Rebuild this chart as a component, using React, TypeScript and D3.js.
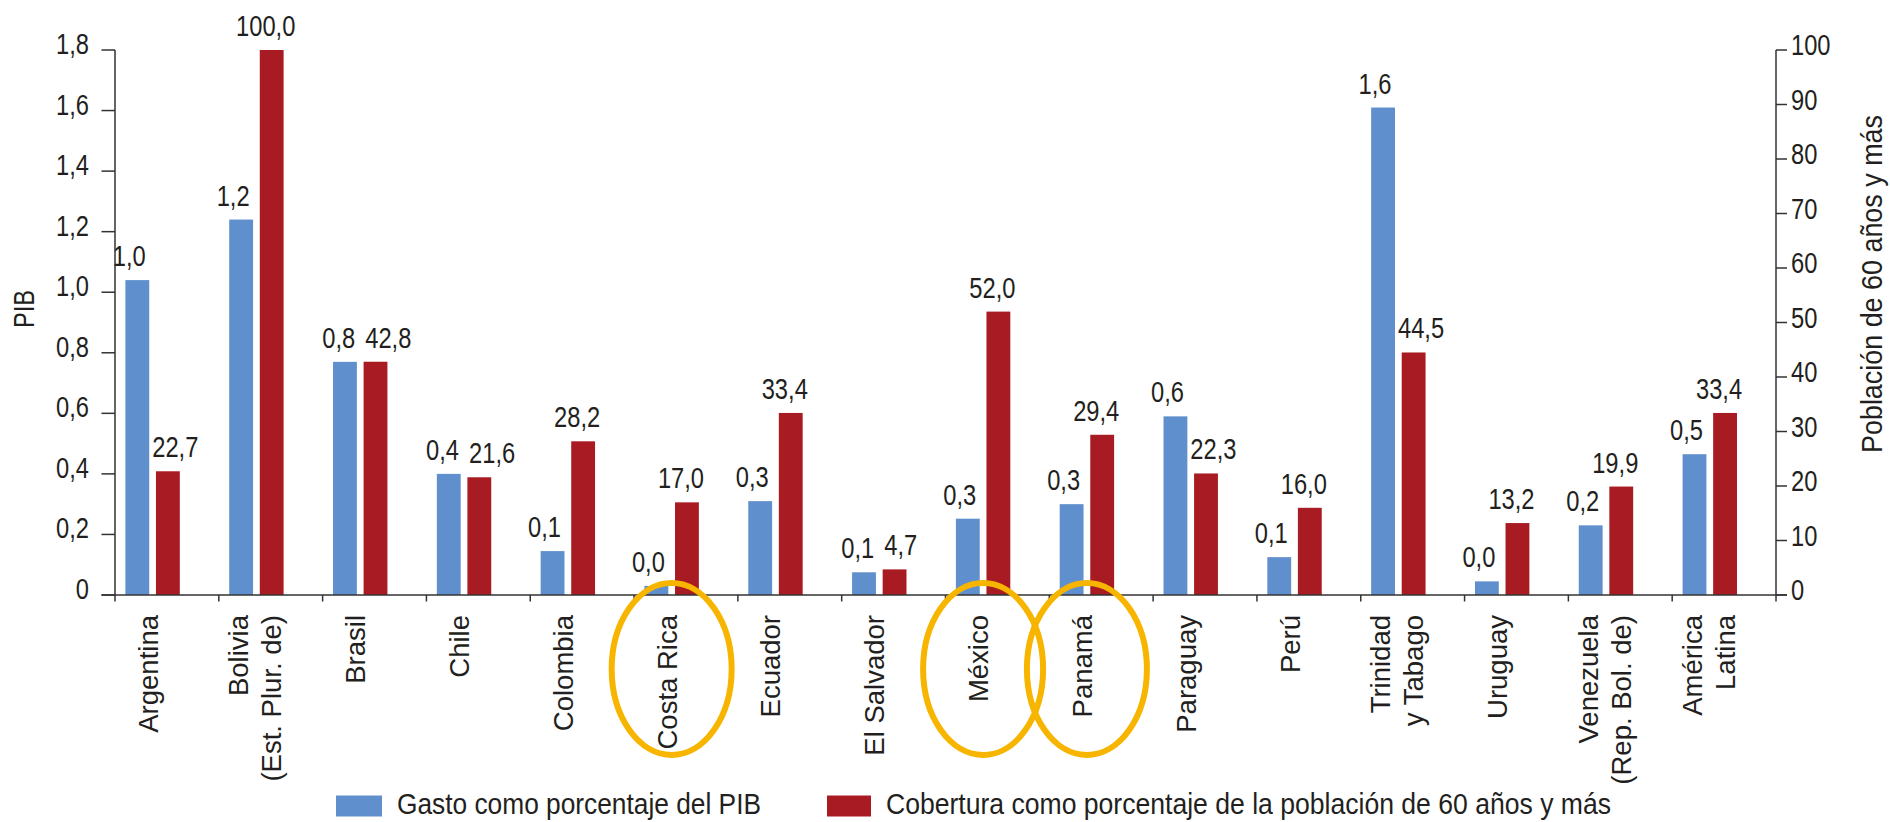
import React from "react";
import * as d3 from "d3";

// ---------- data ----------
const categories = [
  "Argentina",
  "Bolivia (Est. Plur. de)",
  "Brasil",
  "Chile",
  "Colombia",
  "Costa Rica",
  "Ecuador",
  "El Salvador",
  "México",
  "Panamá",
  "Paraguay",
  "Perú",
  "Trinidad y Tabago",
  "Uruguay",
  "Venezuela (Rep. Bol. de)",
  "América Latina",
];
const categoryLines = [
  ["Argentina"],
  ["Bolivia", "(Est. Plur. de)"],
  ["Brasil"],
  ["Chile"],
  ["Colombia"],
  ["Costa Rica"],
  ["Ecuador"],
  ["El Salvador"],
  ["México"],
  ["Panamá"],
  ["Paraguay"],
  ["Perú"],
  ["Trinidad", "y Tabago"],
  ["Uruguay"],
  ["Venezuela", "(Rep. Bol. de)"],
  ["América", "Latina"],
];
// Gasto como porcentaje del PIB (left axis)
const gastoPIB = [1.04, 1.24, 0.77, 0.4, 0.145, 0.03, 0.31, 0.075, 0.252, 0.3, 0.59, 0.125, 1.61, 0.045, 0.23, 0.465];
// Cobertura como porcentaje de la población de 60 años y más (right axis)
const cobertura = [22.7, 100.0, 42.8, 21.6, 28.2, 17.0, 33.4, 4.7, 52.0, 29.4, 22.3, 16.0, 44.5, 13.2, 19.9, 33.4];
const leftTicks = [0, 0.2, 0.4, 0.6, 0.8, 1.0, 1.2, 1.4, 1.6, 1.8];
const rightTicks = [0, 10, 20, 30, 40, 50, 60, 70, 80, 90, 100];
const highlighted = ["Costa Rica", "México", "Panamá"];
const seriesNames = [
  "Gasto como porcentaje del PIB",
  "Cobertura como porcentaje de la población de 60 años y más",
];
const leftTitle = "PIB";
const rightTitle = "Población de 60 años y más";

// ---------- layout / style ----------
const W = 1890;
const H = 822;
const SANS = "'Liberation Sans',Arial,Helvetica,sans-serif";
const NARROW_SCALE = 0.79;
const BLUE = "#5f8fcc";
const RED = "#a91b22";
const TXT = "#231f20";
const AXIS = "#333333";
const GOLD = "#f7b500";

const plotL = 115;
const plotR = 1776;
const plotB = 595;
const plotT = 50;
const groupOffset = 37.6;
const valueFont = 30;

const locale = d3.formatLocale({ decimal: ",", thousands: ".", grouping: [3], currency: ["", ""] });
const fmt1 = locale.format(".1f");
const tickFmt = (v: number) => (v === 0 ? "0" : fmt1(v));

let ctx: CanvasRenderingContext2D | null = null;
function textW(s: string, size: number) {
  if (!ctx) ctx = document.createElement("canvas").getContext("2d");
  if (!ctx) return s.length * size * 0.5 * NARROW_SCALE;
  ctx.font = `${size}px ${SANS}`;
  return ctx.measureText(s).width * NARROW_SCALE;
}

// condensed text: regular sans squeezed horizontally
function NText(props: {
  x: number;
  y: number;
  rotate?: number;
  anchor?: "start" | "middle" | "end";
  size: number;
  children: React.ReactNode;
  length?: number;
}) {
  const { x, y, rotate = 0, anchor = "start", size, children, length } = props;
  return (
    <g transform={`translate(${x},${y}) rotate(${rotate}) scale(${NARROW_SCALE},1)`}>
      <text
        x={0}
        y={0}
        textAnchor={anchor}
        fontFamily={SANS}
        fontSize={size}
        fill={TXT}
        {...(length ? { textLength: length / NARROW_SCALE, lengthAdjust: "spacingAndGlyphs" } : {})}
      >
        {children}
      </text>
    </g>
  );
}

export default function App() {
  const x = d3.scaleBand<string>().domain(categories).range([plotL, plotR]).paddingInner(0).paddingOuter(0);
  const inner = d3.scaleBand<string>().domain(["g", "c"]).range([-27.2, 27.2]).paddingInner(0.22);
  const yL = d3.scaleLinear().domain([0, 1.8]).range([plotB, plotT]);
  const yR = d3.scaleLinear().domain([0, 100]).range([plotB, plotT]);
  const bw = inner.bandwidth();

  const items = categories.map((c, i) => {
    const gc = (x(c) as number) + groupOffset;
    const bx = gc + (inner("g") as number);
    const rx = gc + (inner("c") as number);
    const bTop = yL(gastoPIB[i]);
    const rTop = yR(cobertura[i]);
    const bLab = fmt1(gastoPIB[i]);
    const rLab = fmt1(cobertura[i]);
    const bW = textW(bLab, valueFont);
    const rW = textW(rLab, valueFont);
    const bBase = bTop - 14;
    const rBase = rTop - 14;
    let bCx = bx + bw / 2 - 8;
    let rCx = rx + bw / 2 - 6;
    // keep red label clear of a taller blue bar
    if (bTop < rBase) rCx = Math.max(rCx, bx + bw + 3 + rW / 2);
    // keep blue label clear of a taller red bar
    if (rTop < bBase) bCx = Math.min(bCx, rx - 3 - bW / 2);
    // labels colliding: set them side by side around the group centre
    const capH = valueFont * 0.72;
    const vOverlap = !(bBase < rBase - capH || rBase < bBase - capH);
    const hOverlap = bCx + bW / 2 + 4 > rCx - rW / 2;
    if (vOverlap && hOverlap) {
      bCx = gc - 5 - bW / 2;
      rCx = gc + 5 + rW / 2;
    }
    return { c, i, gc, bx, rx, bTop, rTop, bLab, rLab, bCx, rCx, bBase, rBase };
  });

  const tickXs = [...categories.map((c) => x(c) as number), plotR];

  return (
    <svg
      width={W}
      height={H}
      viewBox={`0 0 ${W} ${H}`}
      style={{ position: "absolute", left: 0, top: 0, background: "#ffffff" }}
    >
      <rect x={0} y={0} width={W} height={H} fill="#ffffff" />
      {/* bars */}
      {items.map((d) => (
        <g key={d.c}>
          <rect x={d.bx} y={d.bTop} width={bw} height={plotB - d.bTop} fill={BLUE} />
          <rect x={d.rx} y={d.rTop} width={bw} height={plotB - d.rTop} fill={RED} />
        </g>
      ))}
      {/* value labels */}
      {items.map((d) => (
        <g key={"l" + d.c}>
          <NText x={d.bCx} y={d.bBase} anchor="middle" size={valueFont}>{d.bLab}</NText>
          <NText x={d.rCx} y={d.rBase} anchor="middle" size={valueFont}>{d.rLab}</NText>
        </g>
      ))}
      {/* left axis */}
      <line x1={plotL} x2={plotL} y1={plotT} y2={plotB} stroke={AXIS} strokeWidth={1.5} />
      {leftTicks.map((t) => (
        <g key={"lt" + t}>
          <line x1={plotL - 13.5} x2={plotL} y1={yL(t)} y2={yL(t)} stroke={AXIS} strokeWidth={1.5} />
          <NText x={89} y={yL(t) + 4} anchor="end" size={30}>{tickFmt(t)}</NText>
        </g>
      ))}
      <NText x={34} y={309} rotate={-90} anchor="middle" size={30}>{leftTitle}</NText>
      {/* right axis */}
      <line x1={plotR} x2={plotR} y1={plotT} y2={plotB} stroke={AXIS} strokeWidth={1.5} />
      {rightTicks.map((t) => (
        <g key={"rt" + t}>
          <line x1={plotR} x2={plotR + 11} y1={yR(t)} y2={yR(t)} stroke={AXIS} strokeWidth={1.5} />
          <NText x={1791} y={yR(t) + 5} anchor="start" size={30}>{t}</NText>
        </g>
      ))}
      <NText x={1882} y={284} rotate={-90} anchor="middle" size={30} length={338}>{rightTitle}</NText>
      {/* x axis */}
      <line x1={plotL - 13.5} x2={plotR + 11} y1={plotB} y2={plotB} stroke={AXIS} strokeWidth={1.5} />
      {tickXs.map((tx, i) => (
        <line key={"xt" + i} x1={tx} x2={tx} y1={plotB} y2={plotB + 6.5} stroke={AXIS} strokeWidth={1.5} />
      ))}
      {/* category labels */}
      {items.map((d) => {
        const lines = categoryLines[d.i];
        const bases = lines.length === 1 ? [d.gc + 5] : [d.gc - 8, d.gc + 25];
        return (
          <g key={"c" + d.c}>
            {lines.map((ln, k) => (
              <text
                key={k}
                transform={`translate(${bases[k]},615) rotate(-90)`}
                textAnchor="end"
                fontFamily={SANS}
                fontSize={27.5}
                fill={TXT}
              >
                {ln}
              </text>
            ))}
          </g>
        );
      })}
      {/* highlight ellipses */}
      {items
        .filter((d) => highlighted.includes(d.c))
        .map((d) => (
          <ellipse key={"e" + d.c} cx={d.gc} cy={669} rx={60} ry={86} fill="none" stroke={GOLD} strokeWidth={6} />
        ))}
      {/* legend */}
      <rect x={336} y={795.5} width={46} height={21} fill={BLUE} />
      <NText x={397} y={814} size={30} length={364}>{seriesNames[0]}</NText>
      <rect x={827} y={795.5} width={44} height={21} fill={RED} />
      <NText x={886} y={814} size={30} length={725}>{seriesNames[1]}</NText>
    </svg>
  );
}
